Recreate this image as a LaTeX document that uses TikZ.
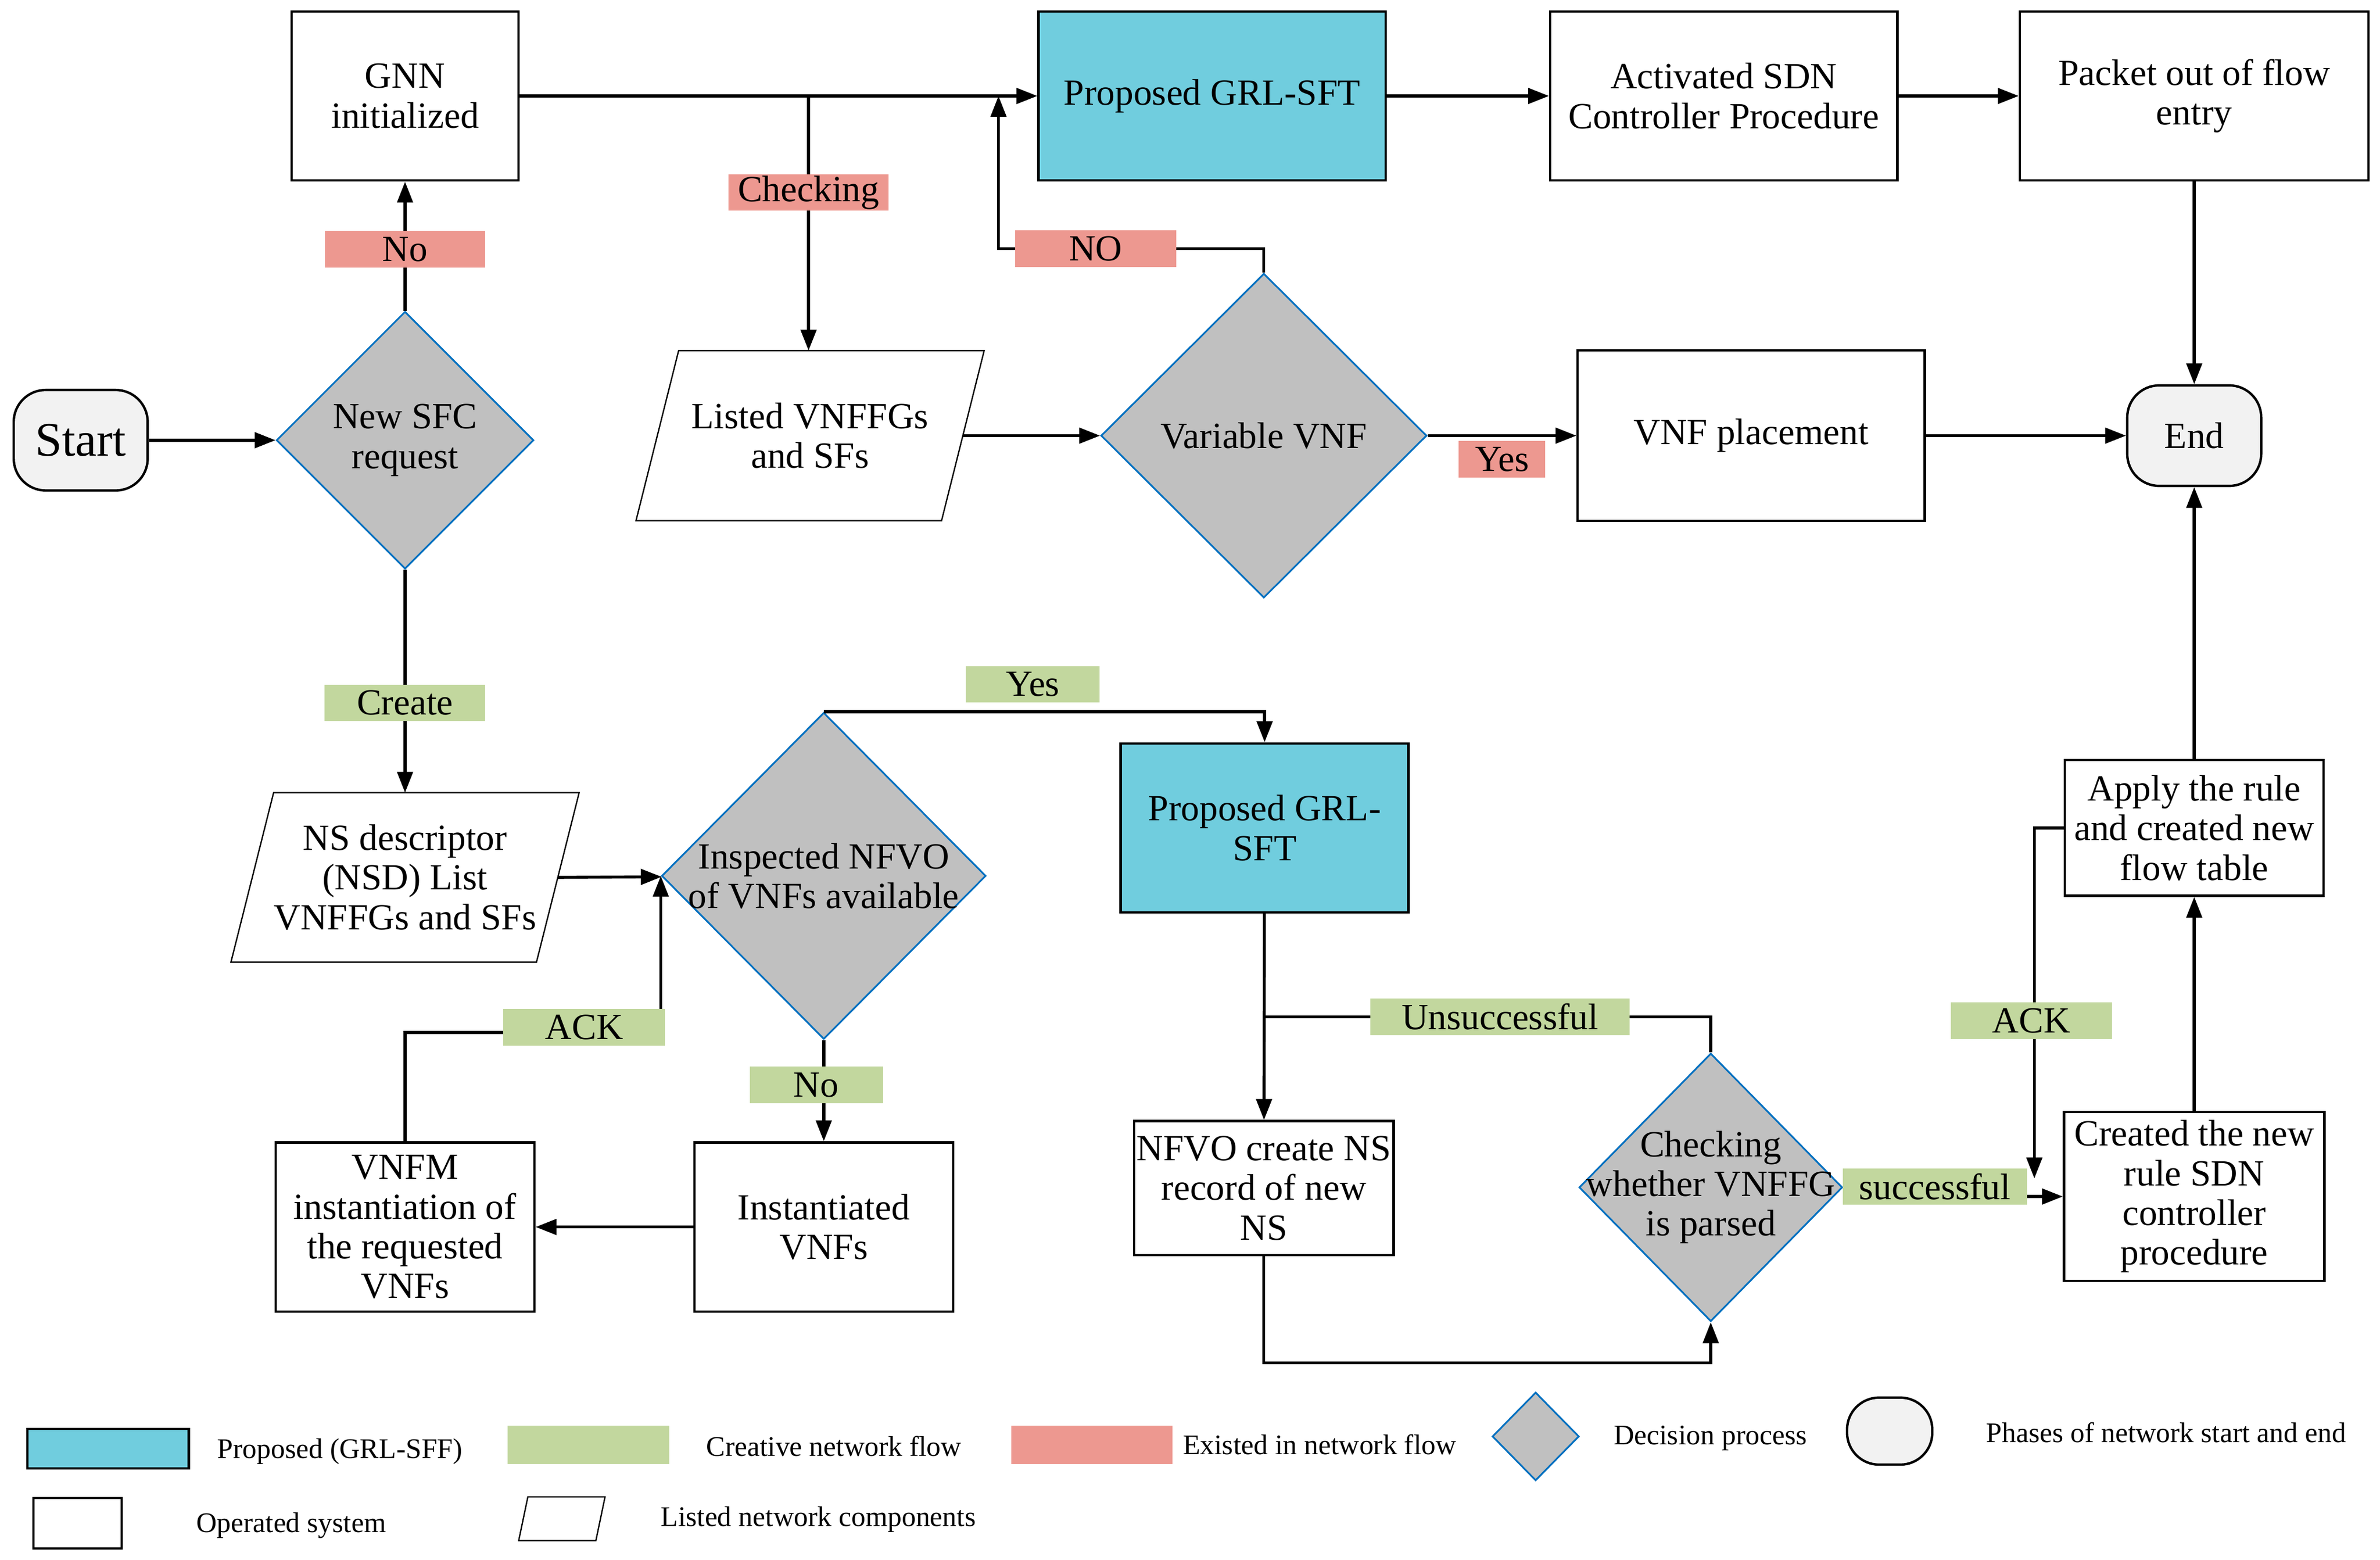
\documentclass[tikz,border=0pt]{standalone}
\usepackage{fontspec}
\setmainfont{Liberation Serif}
\usetikzlibrary{positioning, arrows.meta, shapes.geometric, calc}

\begin{document}
\begin{tikzpicture}[x=0.02cm, y=-0.02cm,
    every node/.style={font=\fontsize{13.8}{14.8}\selectfont, align=center},
    box/.style={draw, line width=0.9pt, inner sep=1pt},
    grlbox/.style={box, fill=grlcyan},
    term/.style={draw, line width=0.9pt, fill=termgrey, rounded corners=0.42cm},
    decision/.style={diamond, draw=decblue, line width=0.65pt, fill=decgrey, inner sep=0pt},
    listed/.style={inner sep=1pt},
    listline/.style={line width=0.5pt},
    redlab/.style={fill=labred, minimum height=0.48cm, inner sep=0pt},
    greenlab/.style={fill=labgreen, minimum height=0.48cm, inner sep=0pt},
    conn/.style={line width=1.1pt},
    arr/.style={conn, -{Triangle[length=7.8pt,width=5.8pt]}},
    legtext/.style={font=\fontsize{10.6}{12}\selectfont, anchor=west, inner sep=0pt}
]

    % Colors
    \definecolor{grlcyan}{RGB}{112,205,222}
    \definecolor{termgrey}{RGB}{242,242,242}
    \definecolor{decgrey}{RGB}{192,192,192}
    \definecolor{decblue}{RGB}{0,112,192}
    \definecolor{labred}{RGB}{237,152,144}
    \definecolor{labgreen}{RGB}{194,215,158}

    \useasboundingbox (0,0) rectangle (1563,1024);

    % ======================
    % Top row
    % ======================
    \node[box, minimum width=2.98cm, minimum height=2.22cm] (gnn) at (266,63) {GNN\\initialized};
    \node[grlbox, minimum width=4.56cm, minimum height=2.22cm] (grl) at (796,63) {Proposed GRL-SFT};
    \node[box, minimum width=4.56cm, minimum height=2.22cm] (sdn) at (1132,63) {Activated SDN\\Controller Procedure};
    \node[box, minimum width=4.58cm, minimum height=2.22cm] (pkt) at (1441,63) {Packet out of flow\\entry};

    % ======================
    % Middle row
    % ======================
    \node[term, minimum width=1.76cm, minimum height=1.32cm, font=\fontsize{18}{20}\selectfont] (start) at (53,289) {Start};
    \node[decision, minimum width=3.38cm, minimum height=3.38cm] (sfc) at (266,289) {};
    \node (sfcT) at (sfc) {New SFC\\request};
    \node[listed, minimum width=4.56cm, minimum height=2.22cm] (lst) at (532,286) {Listed VNFFGs\\and SFs};
    \node[decision, minimum width=4.28cm, minimum height=4.26cm] (vnf) at (830,286) {};
    \node (vnfT) at (vnf) {Variable VNF};
    \node[box, minimum width=4.56cm, minimum height=2.24cm] (place) at (1150,286) {VNF placement};
    \node[term, minimum width=1.76cm, minimum height=1.32cm] (end) at (1441,286) {End};

    % ======================
    % Lower part
    % ======================
    \node[listed, minimum width=4.56cm, minimum height=2.21cm] (nsd) at (266,576) {NS descriptor\\(NSD) List\\VNFFGs and SFs};
    \node[decision, minimum width=4.26cm, minimum height=4.29cm] (insp) at (541,575) {};
    \node (inspT) at (insp) {Inspected NFVO\\of VNFs available};
    \node[grlbox, minimum width=3.78cm, minimum height=2.22cm] (grl2) at (830.5,543.5) {Proposed GRL-\\SFT};
    \node[box, minimum width=3.4cm, minimum height=1.76cm] (nfvo) at (830,780) {NFVO create NS\\record of new\\NS};
    \node[decision, minimum width=3.46cm, minimum height=3.52cm] (chk) at (1123.5,779.5) {};
    \node (chkT) at (chk) {Checking\\whether VNFFG\\is parsed};
    \node[box, minimum width=3.42cm, minimum height=2.22cm] (crt) at (1441,785.5) {Created the new\\rule SDN\\controller\\procedure};
    \node[box, minimum width=3.4cm, minimum height=1.78cm] (apply) at (1441,543.5) {Apply the rule\\and created new\\flow table};
    \node[box, minimum width=3.4cm, minimum height=2.22cm] (vnfm) at (266,805.5) {VNFM\\instantiation of\\the requested\\VNFs};
    \node[box, minimum width=3.4cm, minimum height=2.22cm] (inst) at (541,805.5) {Instantiated\\VNFs};

    % parallelogram outlines of the listed components
    \draw[listline] (lst.south west) -- ($(lst.north west)+(28,0)$) -- (lst.north east) -- ($(lst.south east)+(-28,0)$) -- cycle;
    \draw[listline] (nsd.south west) -- ($(nsd.north west)+(28,0)$) -- (nsd.north east) -- ($(nsd.south east)+(-28,0)$) -- cycle;

    % ======================
    % Connectors
    % ======================
    \coordinate (chkTop) at (531,63);
    \coordinate (joinNo) at ($(grl.west)+(-25.5,0)$);
    \coordinate (ackEnd) at (1336,773.6);

    \draw[arr] (start) -- (sfc);
    \draw[arr] (sfc) -- node[redlab, minimum width=2.1cm, pos=0.475] (noLab) {No} (gnn);
    \draw[arr] (gnn) -- (grl);
    \draw[arr] (chkTop) -- node[redlab, minimum width=2.1cm, pos=0.379] (chkLab) {Checking} (chkTop |- lst.north);
    \draw[arr] (vnf.north) -- ++(0,-15.6) -| node[redlab, minimum width=2.12cm, pos=0.317] (noLab2) {NO} (joinNo);
    \draw[arr] ($(lst.east)+(-14,0)$) -- (vnf);
    \draw[arr] (vnf) -- node[redlab, minimum width=1.14cm, below=0.05cm] (yesLab) {Yes} (place);
    \draw[arr] (place) -- (end);
    \draw[arr] (grl) -- (sdn);
    \draw[arr] (sdn) -- (pkt);
    \draw[arr] (pkt) -- (end);

    \draw[arr] (sfc) -- node[greenlab, minimum width=2.11cm, pos=0.597] (createLab) {Create} (sfc |- nsd.north);
    \draw[arr] ($(nsd.east)+(-14,0)$) -- (insp);
    \draw[arr] (vnfm.north) -- ++(0,-71.4) -| node[greenlab, minimum width=2.12cm, pos=0.35, yshift=0.07cm] (ackLab) {ACK} (insp.west);
    \draw[arr] (insp) -- node[greenlab, minimum width=1.75cm, pos=0.444, xshift=-0.1cm] (noLab3) {No} (inst);
    \draw[arr] (inst) -- (vnfm);
    \draw[arr] (insp.north) -| node[greenlab, minimum width=1.76cm, pos=0.237, above=0.1cm] (yesLab2) {Yes} (grl2.north);
    \draw[arr] (grl2) -- (nfvo);
    \draw[conn] (chk.north) |- node[greenlab, minimum width=3.41cm, pos=0.736] (unsLab) {Unsuccessful} ($(grl2.south)!.5!(nfvo.north)$);
    \draw[arr] (nfvo.south) -- ++(0,70) -| (chk.south);
    \draw[arr] (chk.east |- crt.west) -- node[greenlab, minimum width=2.42cm, pos=0.417, yshift=0.13cm] (sucLab) {successful} (crt.west);
    \draw[arr] (crt) -- (apply);
    \draw[arr] (apply) -- (end);
    \draw[arr] (apply.west) -| node[greenlab, minimum width=2.12cm, pos=0.775, xshift=-0.04cm] (ackLab2) {ACK} (ackEnd);

    % ======================
    % Legend
    % ======================
    \node[grlbox, minimum width=2.12cm, minimum height=0.52cm] (lgGrl) at (71,951) {};
    \node[legtext] (lgGrlT) at (142.5,953) {Proposed (GRL-SFF)};
    \node[greenlab, minimum width=2.12cm, minimum height=0.5cm] (lgGreen) at (386.5,948.5) {};
    \node[legtext] (lgGreenT) at (463.5,949.5) {Creative network flow};
    \node[redlab, minimum width=2.12cm, minimum height=0.5cm] (lgRed) at (717,948.5) {};
    \node[legtext] (lgRedT) at (776.5,948.5) {Existed in network flow};
    \node[decision, minimum width=1.14cm, minimum height=1.16cm] (lgDec) at (1008.5,943) {};
    \node[legtext] (lgDecT) at (1059.5,944) {Decision process};
    \node[term, minimum width=1.12cm, minimum height=0.88cm, rounded corners=0.42cm] (lgTerm) at (1241,939.5) {};
    \node[legtext] (lgTermT) at (1304,940.5) {Phases of network start and end};
    \node[box, minimum width=1.16cm, minimum height=0.66cm] (lgBox) at (51,1000) {};
    \node[legtext] (lgBoxT) at (128.6,1001.5) {Operated system};
    \node[listed, minimum width=1.12cm, minimum height=0.56cm] (lgList) at (369,997) {};
    \draw[listline] (lgList.south west) -- ($(lgList.north west)+(6,0)$) -- (lgList.north east) -- ($(lgList.south east)+(-6,0)$) -- cycle;
    \node[legtext] (lgListT) at (433.6,997.5) {Listed network components};

\end{tikzpicture}
\end{document}
